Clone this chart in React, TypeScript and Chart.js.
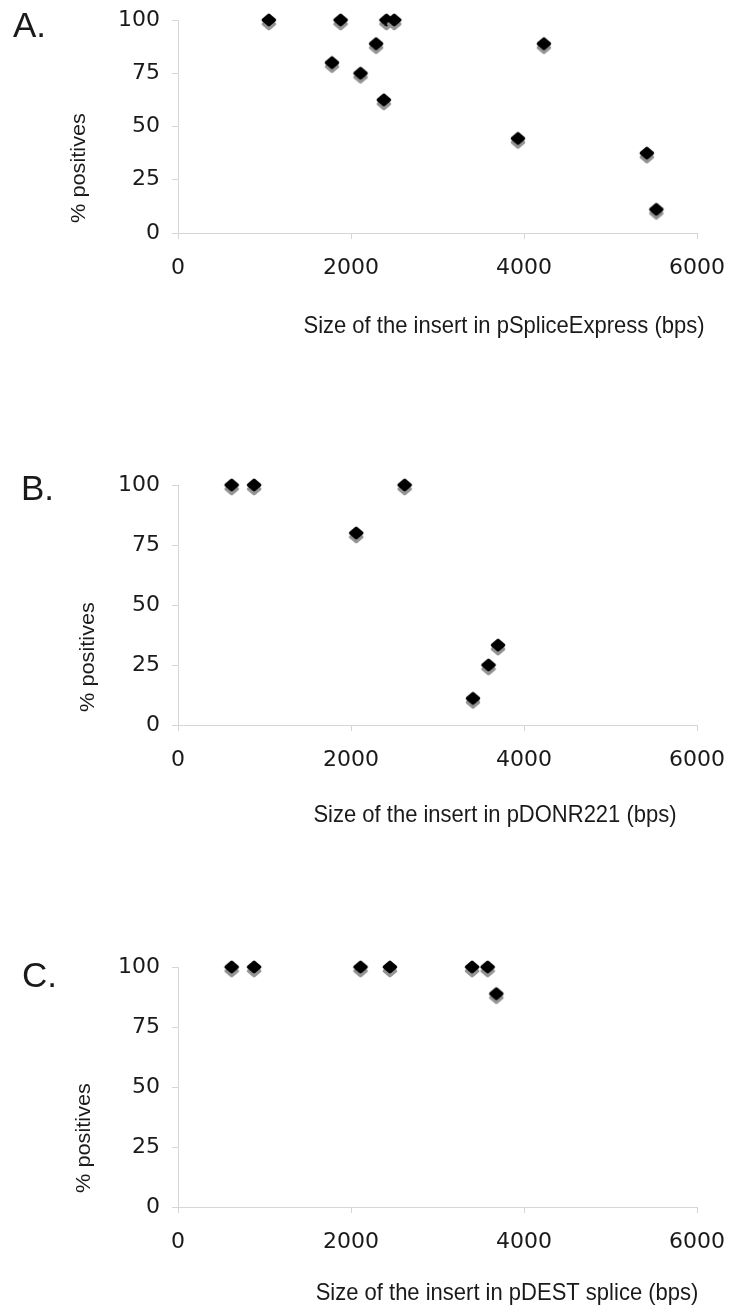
import React, { useEffect, useRef } from "react";
import { Chart, registerables } from "chart.js";

Chart.register(...registerables);

// ---------------- data ----------------
const xTickValues = [0, 2000, 4000, 6000];
const yTickValues = [0, 25, 50, 75, 100];

const sizesA = [1050, 1880, 1780, 2110, 2290, 2410, 2500, 2380, 3930, 4230, 5420, 5530];
const positivesA = [100, 100, 80, 75, 88.9, 100, 100, 62.5, 44.4, 88.9, 37.5, 11.1];

const sizesB = [620, 880, 2060, 2620, 3410, 3590, 3700];
const positivesB = [100, 100, 80, 100, 11.1, 25, 33.3];

const sizesC = [620, 880, 2110, 2450, 3400, 3580, 3680];
const positivesC = [100, 100, 100, 100, 100, 100, 88.9];

const panelLetters = ["A.", "B.", "C."];
const xTitles = [
  "Size of the insert in pSpliceExpress (bps)",
  "Size of the insert in pDONR221 (bps)",
  "Size of the insert in pDEST splice (bps)",
];
const yTitle = "% positives";

// ---------------- layout (positions only) ----------------
const layouts = [
  { top: 0, height: 440, areaTop: 20, areaBottom: 233, letterX: 13, letterY: 37, yTitleX: 85, yTitleY: 168, xTitleX: 504, xTitleY: 333 },
  { top: 440, height: 440, areaTop: 45, areaBottom: 285, letterX: 21, letterY: 60, yTitleX: 94, yTitleY: 217, xTitleX: 495, xTitleY: 382 },
  { top: 880, height: 435, areaTop: 87, areaBottom: 327, letterX: 22, letterY: 107, yTitleX: 90, yTitleY: 258, xTitleX: 507, xTitleY: 420 },
];

const WIDTH = 732;
const AREA_LEFT = 178;
const AREA_RIGHT = 697;
const AXIS_COLOR = "#d6d6d6";
const TEXT_COLOR = "#1a1a1a";

function makeMarker(): HTMLCanvasElement {
  const c = document.createElement("canvas");
  c.width = 28;
  c.height = 28;
  const g = c.getContext("2d")!;
  const diamond = (cx: number, cy: number, color: string) => {
    g.beginPath();
    g.moveTo(cx - 5.6, cy);
    g.lineTo(cx, cy - 4.8);
    g.lineTo(cx + 5.6, cy);
    g.lineTo(cx, cy + 4.8);
    g.closePath();
    g.fillStyle = color;
    g.strokeStyle = color;
    g.lineWidth = 3.4;
    g.lineJoin = "round";
    g.fill();
    g.stroke();
  };
  g.filter = "blur(0.6px)";
  diamond(14, 18, "#949494");
  g.filter = "none";
  diamond(14, 14, "#000000");
  return c;
}

const textPlugin = {
  id: "panelText",
  afterDraw(chart: any, _args: any, opts: any) {
    const ctx = chart.ctx as CanvasRenderingContext2D;
    ctx.save();
    ctx.fillStyle = TEXT_COLOR;
    ctx.textBaseline = "alphabetic";

    ctx.font = '35px "Liberation Sans", Arial, sans-serif';
    ctx.textAlign = "left";
    ctx.fillText(opts.letter, opts.letterX, opts.letterY);

    ctx.save();
    ctx.translate(opts.xTitleX, opts.xTitleY);
    ctx.scale(1, 1.12);
    ctx.font = '22px "Liberation Sans", Arial, sans-serif';
    ctx.textAlign = "center";
    ctx.fillText(opts.xTitle, 0, 0);
    ctx.restore();

    ctx.save();
    ctx.translate(opts.yTitleX, opts.yTitleY);
    ctx.rotate(-Math.PI / 2);
    ctx.scale(1.06, 1);
    ctx.font = '20.5px "Liberation Sans", Arial, sans-serif';
    ctx.textAlign = "center";
    ctx.fillText(opts.yTitle, 0, 0);
    ctx.restore();

    ctx.restore();
  },
};

type PanelProps = { index: number; xs: number[]; ys: number[] };

function Panel({ index, xs, ys }: PanelProps) {
  const ref = useRef<HTMLCanvasElement | null>(null);
  const lay = layouts[index];

  useEffect(() => {
    if (!ref.current) return;
    const marker = makeMarker();
    const tickFont = { family: '"DejaVu Sans", Verdana, sans-serif', size: 22 };
    const chart = new Chart(ref.current, {
      type: "scatter",
      data: {
        datasets: [
          {
            data: xs.map((x, i) => ({ x, y: ys[i] })),
            pointStyle: marker as any,
            pointRadius: 7,
            pointHoverRadius: 7,
            clip: false as any,
          },
        ],
      },
      options: {
        responsive: false,
        animation: false,
        devicePixelRatio: 1,
        events: [],
        layout: { padding: { top: lay.areaTop, left: 0, right: WIDTH - AREA_RIGHT, bottom: 0 } },
        plugins: {
          legend: { display: false },
          tooltip: { enabled: false },
          panelText: {
            letter: panelLetters[index],
            letterX: lay.letterX,
            letterY: lay.letterY,
            xTitle: xTitles[index],
            xTitleX: lay.xTitleX,
            xTitleY: lay.xTitleY,
            yTitle: yTitle,
            yTitleX: lay.yTitleX,
            yTitleY: lay.yTitleY,
          },
        } as any,
        scales: {
          x: {
            type: "linear",
            min: 0,
            max: 6000,
            afterBuildTicks: (s: any) => {
              s.ticks = xTickValues.map((v) => ({ value: v }));
            },
            afterFit: (s: any) => {
              s.height = lay.height - lay.areaBottom;
              s.paddingLeft = 0;
              s.paddingRight = 0;
            },
            grid: { drawOnChartArea: false, drawTicks: true, tickLength: 6, color: AXIS_COLOR, lineWidth: 1 },
            border: { color: AXIS_COLOR, width: 1 },
            ticks: { font: tickFont, color: TEXT_COLOR, padding: 16, maxRotation: 0, autoSkip: false, callback: (v: any) => String(v) },
          },
          y: {
            type: "linear",
            min: 0,
            max: 100,
            afterBuildTicks: (s: any) => {
              s.ticks = yTickValues.map((v) => ({ value: v }));
            },
            afterFit: (s: any) => {
              s.width = AREA_LEFT;
              s.paddingTop = 0;
              s.paddingBottom = 0;
            },
            grid: { drawOnChartArea: false, drawTicks: true, tickLength: 6, color: AXIS_COLOR, lineWidth: 1 },
            border: { color: AXIS_COLOR, width: 1 },
            ticks: { font: tickFont, color: TEXT_COLOR, padding: 12, autoSkip: false, callback: (v: any) => String(v) },
          },
        },
      },
      plugins: [textPlugin],
    });
    return () => chart.destroy();
  }, [index, xs, ys]);

  return (
    <canvas
      ref={ref}
      width={WIDTH}
      height={lay.height}
      style={{ position: "absolute", left: 0, top: lay.top, width: WIDTH, height: lay.height }}
    />
  );
}

export default function App() {
  return (
    <div style={{ position: "absolute", left: 0, top: 0, width: WIDTH, height: 1315, background: "#ffffff" }}>
      <Panel index={0} xs={sizesA} ys={positivesA} />
      <Panel index={1} xs={sizesB} ys={positivesB} />
      <Panel index={2} xs={sizesC} ys={positivesC} />
    </div>
  );
}
